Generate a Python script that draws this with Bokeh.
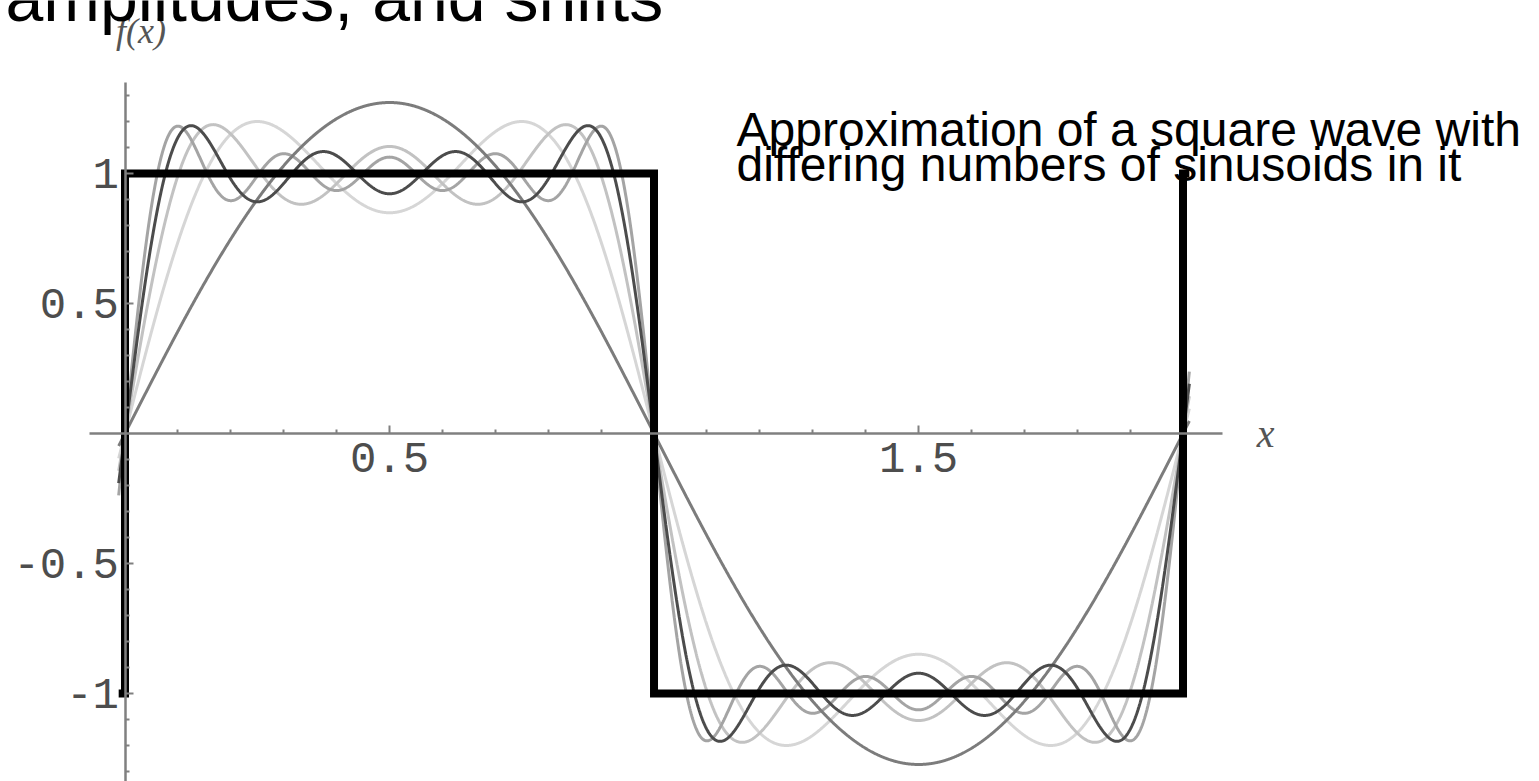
import numpy as np
from bokeh.plotting import figure
from bokeh.models import LinearAxis, FixedTicker, Label, Range1d
from bokeh.embed import file_html
from bokeh.resources import INLINE

# Target square wave: one period on [0, 2] plus a sliver on each side
square_x = [-0.012, 0.0, 0.0, 1.0, 1.0, 2.0, 2.0, 2.012]
square_y = [-1, -1, 1, 1, -1, -1, 1, 1]

# Odd harmonics of the square wave and their sine amplitudes
harmonics = [1, 3, 5, 7, 9]
amplitudes = [1.273, 0.424, 0.255, 0.182, 0.141]

# How many sinusoids go into each approximation, and the grey of its stroke
term_counts = [2, 3, 5, 1, 4]
curve_colors = ["#d6d6d6", "#c2c2c2", "#a4a4a4", "#7c7c7c", "#4c4c4c"]

# Axis ticks
x_ticks = [0.5, 1.5]
x_minor = [round(0.1 * i, 1) for i in range(1, 21) if i % 5 != 0]
y_ticks = [-1, -0.5, 0.5, 1]
y_minor = [round(0.1 * i, 1) for i in range(-13, 14) if i % 5 != 0]

W, H = 1539, 781
p = figure(width=W, height=H,
           x_range=Range1d(-0.2354, 2.6739), y_range=Range1d(-1.3385, 1.6654),
           x_axis_type=None, y_axis_type=None,
           output_backend="svg", toolbar_location=None, min_border=0)
p.outline_line_color = None
p.background_fill_color = "white"
p.border_fill_color = "white"

axis_grey = "#808080"
label_grey = "#4d4d4d"

xaxis = LinearAxis(fixed_location=0, bounds=(-0.068, 2.075),
                   ticker=FixedTicker(ticks=x_ticks, minor_ticks=x_minor))
yaxis = LinearAxis(fixed_location=0, bounds=(-1.45, 1.35),
                   ticker=FixedTicker(ticks=y_ticks, minor_ticks=y_minor),
                   major_label_overrides={-1: "-1", -0.5: "-0.5", 0.5: "0.5", 1: "1"})
for ax in (xaxis, yaxis):
    ax.axis_line_color = axis_grey
    ax.axis_line_width = 2.5
    ax.major_tick_line_color = axis_grey
    ax.minor_tick_line_color = axis_grey
    ax.major_tick_line_width = 2
    ax.minor_tick_line_width = 2
    ax.major_tick_in = 8
    ax.major_tick_out = 0
    ax.minor_tick_in = 4
    ax.minor_tick_out = 0
    ax.major_label_text_font = "Liberation Mono"
    ax.major_label_text_font_size = "44px"
    ax.major_label_text_color = label_grey
xaxis.major_label_standoff = 10
yaxis.major_label_standoff = 6
p.add_layout(xaxis, "below")
p.add_layout(yaxis, "left")

# Partial Fourier sums
xs = np.linspace(-0.012, 2.012, 2400)
for n_terms, color in zip(term_counts, curve_colors):
    ys = np.zeros_like(xs)
    for h, a in zip(harmonics[:n_terms], amplitudes[:n_terms]):
        ys += a * np.sin(np.pi * h * xs)
    p.line(xs, ys, line_color=color, line_width=3)

# The square wave itself
p.line(square_x, square_y, line_color="black", line_width=8, line_join="miter")

# Axis names
p.add_layout(Label(x=2.156, y=0, text="x", text_font="Liberation Serif",
                   text_font_style="italic", text_font_size="40px",
                   text_color="#555555", text_baseline="middle", text_align="center"))
p.add_layout(Label(x=0.03, y=1.55, text="f(x)", text_font="Liberation Serif",
                   text_font_style="italic", text_font_size="36px",
                   text_color="#555555", text_baseline="middle", text_align="center"))


def slide_text(text, left, baseline, size):
    # screen-unit label whose alphabetic baseline sits `baseline` px below the top
    return Label(x=left, y=H - (baseline - 0.375 * size), x_units="screen", y_units="screen",
                 text=text, text_font="Liberation Sans", text_font_size=f"{size}px",
                 text_color="black", text_baseline="alphabetic", text_align="left")


p.add_layout(slide_text("amplitudes, and shifts", 5, 22, 68))
p.add_layout(slide_text("Approximation of a square wave with", 736, 147, 48))
p.add_layout(slide_text("differing numbers of sinusoids in it", 736, 182, 48))

open("out.html", "w").write(file_html(p, INLINE))
